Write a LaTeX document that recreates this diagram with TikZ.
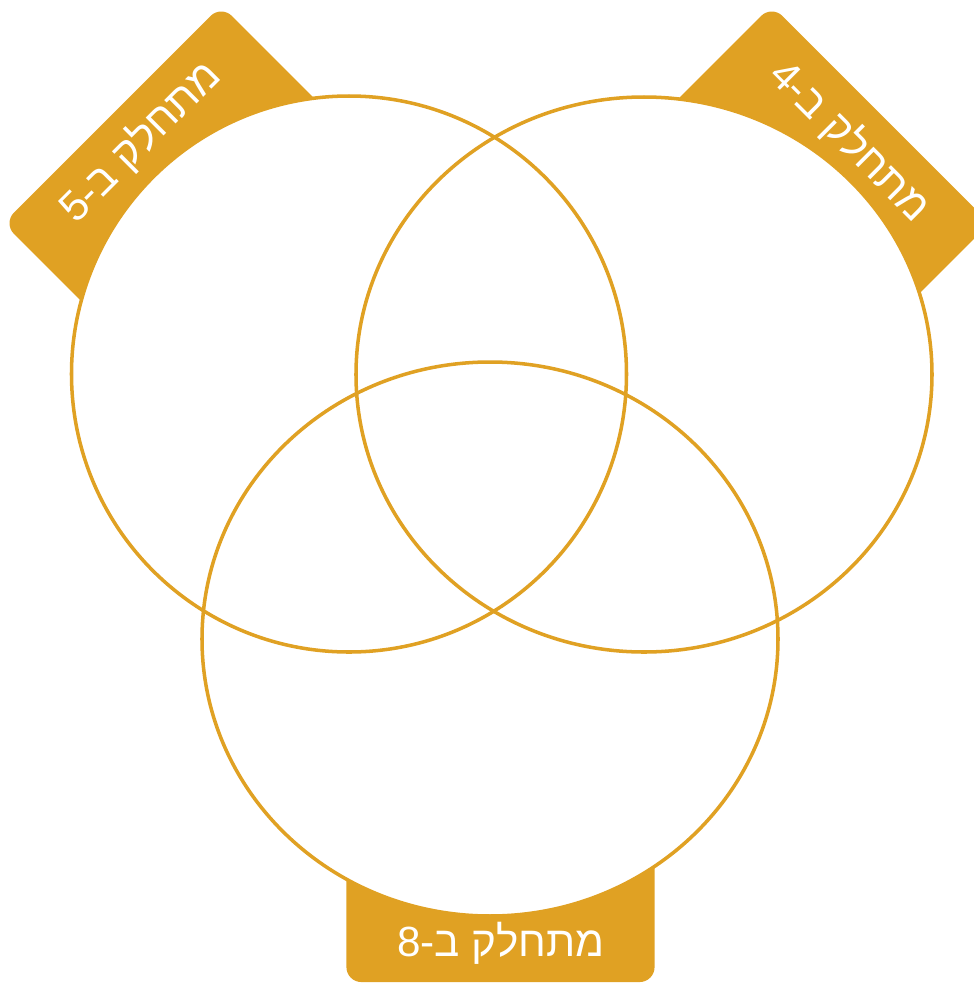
\documentclass[tikz,border=0pt]{standalone}
\usepackage{fontspec}
\newfontfamily\hebfont[Script=Hebrew]{Liberation Sans}
\TeXXeTstate=1
\definecolor{gold}{HTML}{E0A123}
\begin{document}
\begin{tikzpicture}[x=0.01cm,y=-0.01cm,
  tab/.style={fill=gold, draw=none, rounded corners=0.15cm, minimum width=3.08cm, minimum height=2cm, inner sep=0pt},
  tabtext/.style={text=white, font=\hebfont\fontsize{12}{14}\selectfont, inner sep=0pt},
  ring/.style={draw=gold, line width=1pt}]
\useasboundingbox (0,0) rectangle (974,984);
% label tabs (behind the circles)
\node[tab, rotate=45] (boxA) at (183,185) {};
\node[tab, rotate=-45] (boxB) at (810,185) {};
\node[tab] (boxC) at (500.5,882) {};
% circle centres
\coordinate (cA) at (349,374);
\coordinate (cB) at (644,374.5);
\coordinate (cC) at (490,639);
% white fills
\fill[white] (cA) circle [x radius=277.5, y radius=278];
\fill[white] (cB) circle [x radius=288, y radius=277.5];
\fill[white] (cC) circle [x radius=288, y radius=277];
% outlines
\draw[ring] (cA) circle [x radius=277.5, y radius=278];
\draw[ring] (cB) circle [x radius=288, y radius=277.5];
\draw[ring] (cC) circle [x radius=288, y radius=277];
% labels
\node[tabtext, rotate=45] (txtA) at (140,142) {\beginR מתחלק ב-5\endR};
\node[tabtext, rotate=-45] (txtB) at (850,141) {\beginR מתחלק ב-4\endR};
\node[tabtext] (txtC) at (501,943) {\beginR מתחלק ב-8\endR};
\end{tikzpicture}
\end{document}
